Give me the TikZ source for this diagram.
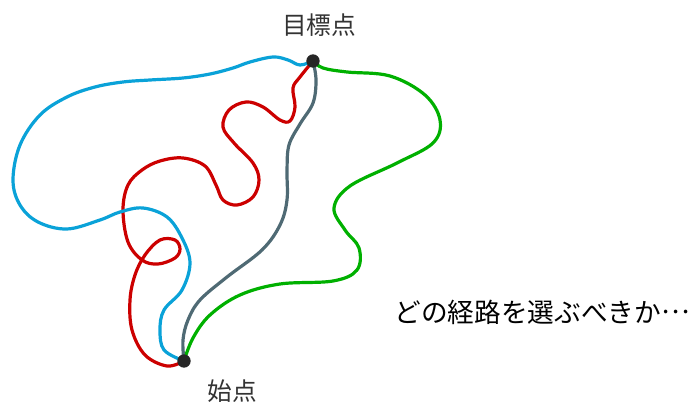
\documentclass[tikz,border=0pt]{standalone}
\usepackage{fontspec}
\setmainfont{Noto Sans CJK JP}
\begin{document}
\begin{tikzpicture}[x=0.75pt,y=-0.75pt,
  route/.style={line width=2.4pt,line cap=round,line join=round},
  pt/.style={circle,fill=black!85,inner sep=0pt,minimum size=10pt},
  lab/.style={text=black!80,font=\fontsize{18.5pt}{20pt}\selectfont,inner sep=0pt}]
\useasboundingbox (0,0) rectangle (690,402);
\definecolor{cblue}{HTML}{0AA2D8}
\definecolor{cred}{HTML}{CC0000}
\definecolor{cgray}{HTML}{4F6A74}
\definecolor{cgreen}{HTML}{00B000}
\coordinate (s) at (184,361);
\coordinate (t) at (313,61);
% red
\draw[route,cred] plot[smooth,tension=0.6] coordinates {(s) (167,366) (145,355) (132,330) (130,300) (135,275) (145,255) (160,240) (175,240) (180,249) (175,258) (158,264) (142,260) (128,242) (123,210) (128,185) (142,170) (160,161) (183,158) (205,166) (216,185) (223,200) (237,205) (253,197) (259,180) (253,163) (234,143) (223,127) (229,110) (246,102) (263,107) (280,120) (290,121) (295,107) (293,88) (300,77) (t)};
% blue
\draw[route,cblue] plot[smooth,tension=0.6] coordinates {(t) (300,65) (288,60) (273,57) (250,62) (233,68) (210,74) (183,78) (150,80) (123,82) (95,87) (67,97) (40,115) (20,145) (13,180) (20,205) (38,222) (67,229) (100,220) (120,212) (143,208) (167,217) (182,238) (190,263) (182,290) (164,310) (160,330) (164,350) (s)};
% green
\draw[route,cgreen] plot[smooth,tension=0.6] coordinates {(t) (323,68) (347,72) (390,76) (425,95) (440,120) (433,143) (397,163) (350,186) (334,208) (345,230) (359,248) (357,270) (333,281) (280,284) (240,295) (210,315) (193,338) (s)};
% gray
\draw[route,cgray] plot[smooth,tension=0.6] coordinates {(s) (183,340) (188,320) (200,300) (227,277) (262,250) (280,225) (287,200) (287,170) (289,145) (300,124) (313,103) (316,80) (t)};
\node[pt] (ns) at (s) {};
\node[pt] (nt) at (t) {};
\node[lab] (lt) at (319,25) {目標点};
\node[lab] (ls) at (232,391) {始点};
\node[inner sep=0pt,font=\fontsize{20pt}{22pt}\selectfont] (q) at (542,312) {どの経路を選ぶべきか\raisebox{0.32em}{…}};
\end{tikzpicture}
\end{document}
